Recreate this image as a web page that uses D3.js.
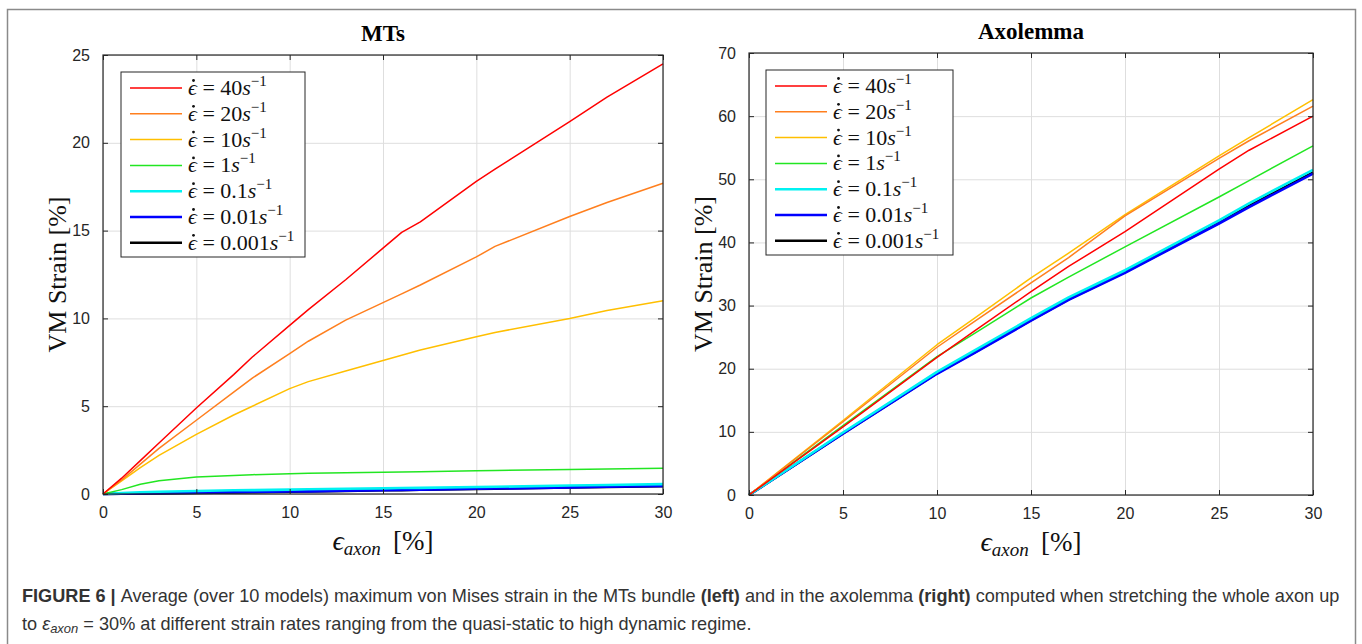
<!DOCTYPE html>
<html lang="en">
<head>
<meta charset="UTF-8">
<title>Figure 6 - VM strain</title>
<script src="https://d3js.org/d3.v7.min.js"></script>
<style>
  body { margin: 0; background: #fff; }
</style>
</head>
<body>
<svg width="1362" height="644"></svg>
<script>
    // rate labels, same order as the legend
    let rates = ["40", "20", "10", "1", "0.1", "0.01", "0.001"]
    let colors = ["#ff0000", "#ff7f1e", "#ffbf00", "#22e622", "#00f2f2", "#0000ff", "#000000"]
    let widths = [1.5, 1.5, 1.5, 1.5, 2.6, 2.6, 2.6]

    let xTicks = [0, 5, 10, 15, 20, 25, 30]

    // MTs panel
    let xMT = [0, 1, 2, 3, 5, 7, 8, 10, 11, 13, 15, 16, 17, 20, 21, 25, 27, 30]
    let mt40 = [0, 0.9, 1.9, 2.9, 4.9, 6.8, 7.8, 9.6, 10.5, 12.2, 14.0, 14.9, 15.5, 17.8, 18.5, 21.2, 22.6, 24.5]
    let mt20 = [0, 0.8, 1.7, 2.6, 4.2, 5.8, 6.6, 8.0, 8.7, 9.9, 10.9, 11.4, 11.9, 13.5, 14.1, 15.8, 16.6, 17.7]
    let mt10 = [0, 0.75, 1.5, 2.2, 3.4, 4.5, 5.0, 6.0, 6.4, 7.0, 7.6, 7.9, 8.2, 8.95, 9.2, 10.0, 10.45, 11.0]
    let mt1 = [0, 0.25, 0.55, 0.75, 0.97, 1.06, 1.10, 1.16, 1.18, 1.21, 1.24, 1.25, 1.27, 1.32, 1.34, 1.40, 1.43, 1.47]
    let mt01 = [0, 0.06, 0.1, 0.13, 0.17, 0.21, 0.22, 0.25, 0.27, 0.3, 0.32, 0.34, 0.35, 0.4, 0.41, 0.48, 0.51, 0.56]
    let mt001 = [0, 0.01, 0.03, 0.04, 0.07, 0.1, 0.11, 0.14, 0.15, 0.19, 0.22, 0.23, 0.25, 0.3, 0.31, 0.38, 0.41, 0.46]
    let mt0001 = [0, 0.01, 0.02, 0.03, 0.06, 0.09, 0.1, 0.13, 0.14, 0.18, 0.21, 0.22, 0.24, 0.29, 0.3, 0.37, 0.4, 0.45]
    let mtTicks = [0, 5, 10, 15, 20, 25]

    // Axolemma panel
    let xAx = [0, 5, 10, 12, 15, 17, 20, 25, 26.6, 30]
    let ax40 = [0, 10.8, 21.8, 26.0, 32.2, 36.2, 41.7, 51.6, 54.6, 60.0]
    let ax20 = [0, 11.6, 23.4, 27.5, 33.6, 37.6, 44.2, 53.3, 56.1, 61.6]
    let ax10 = [0, 11.8, 23.8, 28.0, 34.4, 38.3, 44.4, 53.7, 56.6, 62.6]
    let ax1 = [0, 11.0, 21.9, 25.6, 31.2, 34.5, 39.3, 47.2, 49.8, 55.3]
    let ax01 = [0, 9.9, 19.5, 22.9, 28.0, 31.3, 35.6, 43.5, 46.2, 51.5]
    let ax001 = [0, 9.7, 19.2, 22.5, 27.6, 30.9, 35.2, 43.0, 45.6, 50.9]
    let ax0001 = [0, 9.75, 19.3, 22.6, 27.7, 31.0, 35.3, 43.1, 45.8, 51.1]
    let axTicks = [0, 10, 20, 30, 40, 50, 60, 70]

    let svg = d3.select('svg')
    let serif = "'Liberation Serif', 'DejaVu Serif', serif"
    let sans = "'Liberation Sans', Arial, sans-serif"

    // outer frame of the figure
    svg.append("path")
        .attr("d", "M7.5,660 V9.5 H1355.5 V660")
        .attr("fill", "none")
        .attr("stroke", "#8a8a8a")
        .attr("stroke-width", 1.5)

    function panel(cfg) {
        let x = d3.scaleLinear().domain([0, 30]).range([cfg.left, cfg.right])
        let y = d3.scaleLinear().domain([0, cfg.ymax]).range([cfg.bottom, cfg.top])
        let g = svg.append("g")
        let w = cfg.right - cfg.left, h = cfg.bottom - cfg.top

        // grid
        g.append("g").attr("transform", `translate(0,${cfg.bottom})`)
            .call(d3.axisBottom(x).tickValues(xTicks).tickSize(-h).tickFormat(""))
            .call(s => s.select(".domain").remove())
            .selectAll("line").attr("stroke", "#dedede")
        g.append("g").attr("transform", `translate(${cfg.left},0)`)
            .call(d3.axisLeft(y).tickValues(cfg.yTicks).tickSize(-w).tickFormat(""))
            .call(s => s.select(".domain").remove())
            .selectAll("line").attr("stroke", "#dedede")

        // curves, slow rates first so the fast ones sit on top
        let line = d3.line().x((d, i) => x(cfg.xs[i])).y(d => y(d))
        let order = d3.range(cfg.series.length).reverse()
        g.append("g").selectAll("path")
            .data(order)
            .enter()
            .append("path")
            .attr("d", i => line(cfg.series[i]))
            .attr("fill", "none")
            .attr("stroke", i => colors[i])
            .attr("stroke-width", i => widths[i])
            .attr("stroke-linejoin", "round")

        // ticks on all four sides, pointing in
        let tickStyle = s => {
            s.select(".domain").remove()
            s.selectAll("line").attr("stroke", "#262626")
            s.selectAll("text").attr("font-family", sans).attr("font-size", 16).attr("fill", "#262626")
        }
        g.append("g").attr("transform", `translate(0,${cfg.bottom})`)
            .call(d3.axisBottom(x).tickValues(xTicks).tickSize(-5).tickPadding(13))
            .call(tickStyle)
        g.append("g").attr("transform", `translate(0,${cfg.top})`)
            .call(d3.axisTop(x).tickValues(xTicks).tickSize(-5).tickFormat(""))
            .call(tickStyle)
        g.append("g").attr("transform", `translate(${cfg.left},0)`)
            .call(d3.axisLeft(y).tickValues(cfg.yTicks).tickSize(-5).tickPadding(13))
            .call(tickStyle)
        g.append("g").attr("transform", `translate(${cfg.right},0)`)
            .call(d3.axisRight(y).tickValues(cfg.yTicks).tickSize(-5).tickFormat(""))
            .call(tickStyle)

        g.append("rect")
            .attr("x", cfg.left).attr("y", cfg.top)
            .attr("width", w).attr("height", h)
            .attr("fill", "none").attr("stroke", "#262626").attr("stroke-width", 1.2)

        // title
        g.append("text")
            .attr("x", (cfg.left + cfg.right) / 2).attr("y", cfg.top - 14)
            .attr("text-anchor", "middle")
            .attr("font-family", serif).attr("font-weight", "bold").attr("font-size", 23)
            .text(cfg.title)

        // y label
        g.append("text")
            .attr("transform", `translate(${cfg.left - 37},${(cfg.top + cfg.bottom) / 2}) rotate(-90)`)
            .attr("text-anchor", "middle")
            .attr("font-family", serif).attr("font-size", 26).attr("fill", "#111")
            .text("VM Strain [%]")

        // x label
        let xl = g.append("text")
            .attr("x", (cfg.left + cfg.right) / 2).attr("y", cfg.bottom + 56)
            .attr("text-anchor", "middle")
            .attr("font-family", serif).attr("fill", "#111")
        xl.append("tspan").attr("font-style", "italic").attr("font-size", 28).text("ϵ")
        xl.append("tspan").attr("font-style", "italic").attr("font-size", 19).attr("dy", 5).text("axon")
        xl.append("tspan").attr("font-size", 27).attr("dy", -5).text("\u2009 [%]")

        // legend
        let lg = g.append("g")
        lg.append("rect")
            .attr("x", cfg.legX).attr("y", cfg.legY)
            .attr("width", cfg.legW).attr("height", 185)
            .attr("fill", "#fff").attr("stroke", "#262626").attr("stroke-width", 1)
        let rows = lg.selectAll(".row").data(rates).enter().append("g")
            .attr("transform", (d, i) => `translate(${cfg.legX},${cfg.legY + 16 + i * 25.8})`)
        rows.append("line")
            .attr("x1", 9).attr("x2", 61)
            .attr("stroke", (d, i) => colors[i])
            .attr("stroke-width", (d, i) => widths[i])
        // dot over the epsilon
        rows.append("circle")
            .attr("cx", 72.5).attr("cy", -7.5).attr("r", 1.4).attr("fill", "#111")
        let t = rows.append("text")
            .attr("x", 67).attr("y", 7)
            .attr("font-family", serif).attr("font-size", 22).attr("fill", "#111")
        t.append("tspan").attr("font-style", "italic").text("ϵ")
        t.append("tspan").text(d => " = " + d)
        t.append("tspan").attr("font-style", "italic").text("s")
        t.append("tspan").attr("font-size", 15).attr("dy", -9).text("−1")
    }

    panel({title: "MTs", left: 103, right: 663, top: 55, bottom: 494, ymax: 25,
        yTicks: mtTicks, xs: xMT, series: [mt40, mt20, mt10, mt1, mt01, mt001, mt0001],
        legX: 121, legY: 72, legW: 184})
    panel({title: "Axolemma", left: 749, right: 1313, top: 53, bottom: 495, ymax: 70,
        yTicks: axTicks, xs: xAx, series: [ax40, ax20, ax10, ax1, ax01, ax001, ax0001],
        legX: 766, legY: 70, legW: 187})

    // caption
    let cap1 = svg.append("text").attr("x", 22).attr("y", 602)
        .attr("font-family", sans).attr("font-size", 17).attr("fill", "#333")
    cap1.append("tspan").attr("font-weight", "bold").text("FIGURE 6 | ")
    cap1.append("tspan").text("Average (over 10 models) maximum von Mises strain in the MTs bundle ")
    cap1.append("tspan").attr("font-weight", "bold").text("(left)")
    cap1.append("tspan").text(" and in the axolemma ")
    cap1.append("tspan").attr("font-weight", "bold").text("(right)")
    cap1.append("tspan").text(" computed when stretching the whole axon up")

    let cap2 = svg.append("text").attr("x", 22).attr("y", 630)
        .attr("font-family", sans).attr("font-size", 17).attr("fill", "#333")
    cap2.append("tspan").text("to ")
    cap2.append("tspan").attr("font-style", "italic").text("ε")
    cap2.append("tspan").attr("font-style", "italic").attr("font-size", 13).attr("dy", 3).text("axon")
    cap2.append("tspan").attr("dy", -3).text(" = 30% at different strain rates ranging from the quasi-static to high dynamic regime.")

    // fit the first caption line to the printed width
    let w1 = cap1.node().getComputedTextLength()
    let fs = 17 * 1318 / w1
    cap1.attr("font-size", fs)
    cap2.attr("font-size", fs)
</script>
</body>
</html>
